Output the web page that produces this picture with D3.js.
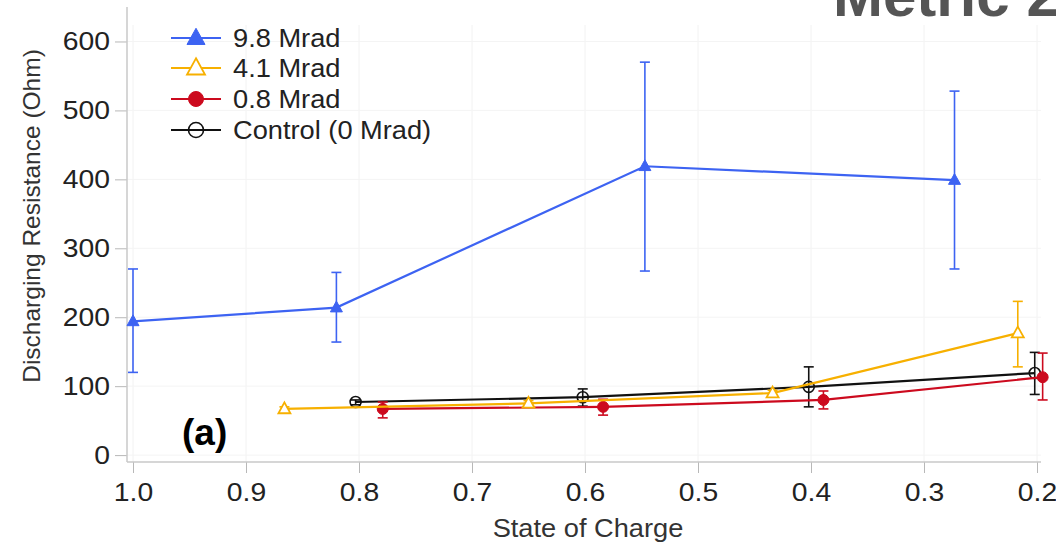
<!DOCTYPE html>
<html>
<head>
<meta charset="utf-8">
<script src="https://cdn.jsdelivr.net/npm/d3@7"></script>
<style>
  html, body { margin: 0; padding: 0; background: #fff; }
  svg { display: block; font-family: "Liberation Sans", Arial, sans-serif; }
</style>
</head>
<body>
<svg id="chart" width="1056" height="545"></svg>
<script>
// ---- data ----
const seriesNames = ["9.8 Mrad", "4.1 Mrad", "0.8 Mrad", "Control (0 Mrad)"];

const soc98 = [1.0, 0.820, 0.547, 0.273];
const res98 = [194, 214, 419, 399];
const lo98  = [120, 164, 267, 270];
const hi98  = [270, 265, 570, 528];

const soc41 = [0.866, 0.650, 0.434, 0.217];
const res41 = [67, 75, 90, 177];
const lo41  = [64, 71, 86, 128];
const hi41  = [70, 79, 94, 223];

const soc08 = [0.779, 0.584, 0.389, 0.195];
const res08 = [67, 70, 80, 113];
const lo08  = [54, 58, 67, 80];
const hi08  = [77, 81, 93, 148];

const soc00 = [0.803, 0.602, 0.402, 0.202];
const res00 = [77, 84, 99, 119];
const lo00  = [73, 71, 70, 88];
const hi00  = [80, 96, 128, 149];

const xTicks = [1.0, 0.9, 0.8, 0.7, 0.6, 0.5, 0.4, 0.3, 0.2];
const yTicks = [0, 100, 200, 300, 400, 500, 600];

const xLabel = "State of Charge";
const yLabel = "Discharging Resistance (Ohm)";
const titleText = "Metric 2";
const panelLabel = "(a)";

// ---- build ----
const colors = ["#3d63f2", "#f7b000", "#cc0a1e", "#111111"];
const markers = ["triangleFilled", "triangleOpen", "circleFilled", "circleOpen"];
const allSeries = [
  {x: soc98, y: res98, lo: lo98, hi: hi98},
  {x: soc41, y: res41, lo: lo41, hi: hi41},
  {x: soc08, y: res08, lo: lo08, hi: hi08},
  {x: soc00, y: res00, lo: lo00, hi: hi00}
].map((s, i) => ({
  name: seriesNames[i], color: colors[i], marker: markers[i],
  pts: s.x.map((v, j) => ({x: v, y: s.y[j], lo: s.lo[j], hi: s.hi[j]}))
}));

const svg = d3.select("#chart");
const SX = 1.09; // horizontal stretch of the reference's lettering

const x = d3.scaleLinear().domain([1.0, 0.2]).range([133, 1037]);
const y = d3.scaleLinear().domain([-10, 650]).range([462, 7]);
const plotL = 127, plotR = 1041, plotT = 7, plotB = 462;

function stretchedText(g, tx, ty, str, anchor) {
  return g.append("text")
    .attr("transform", `translate(${tx},${ty}) scale(${SX},1)`)
    .attr("text-anchor", anchor || "start").text(str);
}

// title (cropped at top like the reference)
svg.append("text")
  .attr("x", 833).attr("y", 16)
  .attr("font-size", 60).attr("font-weight", "bold")
  .attr("fill", "#555").text(titleText);

// grid
const grid = svg.append("g");
grid.selectAll(".vg").data(xTicks).join("line")
  .attr("x1", d => x(d)).attr("x2", d => x(d))
  .attr("y1", plotT + 18).attr("y2", plotB)
  .attr("stroke", "#f2f2f2").attr("stroke-width", 1);
grid.selectAll(".hg").data(yTicks).join("line")
  .attr("x1", plotL).attr("x2", plotR)
  .attr("y1", d => y(d)).attr("y2", d => y(d))
  .attr("stroke", "#f4f4f4").attr("stroke-width", 1);

// axes
const xAxis = d3.axisBottom(x).tickValues(xTicks).tickFormat(d3.format(".1f")).tickSizeOuter(0).tickSize(11).tickPadding(10);
const gx = svg.append("g").attr("transform", `translate(0,${plotB})`).call(xAxis);
gx.select(".domain").remove();
gx.selectAll(".tick line").attr("stroke", "#b8b8b8");
gx.selectAll(".tick text").attr("font-size", 26).attr("fill", "#222")
  .attr("font-family", "'Liberation Sans', Arial, sans-serif")
  .attr("transform", `scale(${SX},1)`);

const yAxis = d3.axisLeft(y).tickValues(yTicks).tickSizeOuter(0).tickSize(12).tickPadding(5);
const gy = svg.append("g").attr("transform", `translate(${plotL},0)`).call(yAxis);
gy.select(".domain").remove();
gy.selectAll(".tick line").attr("stroke", "#b8b8b8");
gy.selectAll(".tick text").attr("font-size", 26).attr("fill", "#222")
  .attr("font-family", "'Liberation Sans', Arial, sans-serif")
  .attr("x", -17 / SX)
  .attr("transform", `scale(${SX},1)`);

svg.append("line").attr("x1", plotL).attr("x2", plotR).attr("y1", plotB).attr("y2", plotB)
  .attr("stroke", "#c8c8c8").attr("stroke-width", 1.5);
svg.append("line").attr("x1", plotL).attr("x2", plotL).attr("y1", plotT).attr("y2", plotB)
  .attr("stroke", "#c8c8c8").attr("stroke-width", 1.5);

// axis labels
stretchedText(svg, 588, 537, xLabel, "middle")
  .attr("font-size", 25).attr("fill", "#333");
svg.append("text").attr("transform", "translate(40,216) rotate(-90)")
  .attr("text-anchor", "middle").attr("font-size", 24.5).attr("fill", "#333").text(yLabel);

// panel label
svg.append("text").attr("x", 182).attr("y", 445)
  .attr("font-size", 37).attr("font-weight", "bold").attr("fill", "#000").text(panelLabel);

// marker drawing
function drawMarker(g, type, color, cx, cy, size) {
  if (type.startsWith("triangle")) {
    const h = size * 0.9, w = size;
    const p = `M${cx},${cy - h * 0.6} L${cx + w / 2},${cy + h * 0.4} L${cx - w / 2},${cy + h * 0.4} Z`;
    g.append("path").attr("d", p)
      .attr("fill", type === "triangleFilled" ? color : "#fff")
      .attr("stroke", color).attr("stroke-width", type === "triangleFilled" ? 1 : 1.8);
  } else {
    g.append("circle").attr("cx", cx).attr("cy", cy).attr("r", size / 2)
      .attr("fill", type === "circleFilled" ? color : "none")
      .attr("stroke", color).attr("stroke-width", type === "circleFilled" ? 1 : 1.6);
  }
}

const line = d3.line().x(d => x(d.x)).y(d => y(d.y));
const drawOrder = [3, 2, 1, 0];
drawOrder.forEach(i => {
  const s = allSeries[i];
  const g = svg.append("g");
  // error bars
  s.pts.forEach(p => {
    const cx = x(p.x);
    g.append("line").attr("x1", cx).attr("x2", cx).attr("y1", y(p.lo)).attr("y2", y(p.hi))
      .attr("stroke", s.color).attr("stroke-width", 1.6);
    [p.lo, p.hi].forEach(v => {
      g.append("line").attr("x1", cx - 5).attr("x2", cx + 5).attr("y1", y(v)).attr("y2", y(v))
        .attr("stroke", s.color).attr("stroke-width", 1.6);
    });
  });
  g.append("path").datum(s.pts).attr("d", line)
    .attr("fill", "none").attr("stroke", s.color).attr("stroke-width", 2.2);
  s.pts.forEach(p => {
    const sz = s.marker.startsWith("triangle") ? 12 : 11;
    drawMarker(g, s.marker, s.color, x(p.x), y(p.y), sz);
  });
});

// legend
const leg = svg.append("g");
const legY = [38, 68, 99, 130];
allSeries.forEach((s, i) => {
  const ly = legY[i];
  leg.append("line").attr("x1", 171).attr("x2", 221).attr("y1", ly).attr("y2", ly)
    .attr("stroke", s.color).attr("stroke-width", 2);
  const sz = s.marker.startsWith("triangle") ? 18 : 15;
  drawMarker(leg, s.marker, s.color, 196, ly, sz);
  stretchedText(leg, 233, ly + 9, s.name)
    .attr("font-size", 25).attr("fill", "#222");
});
</script>
</body>
</html>
